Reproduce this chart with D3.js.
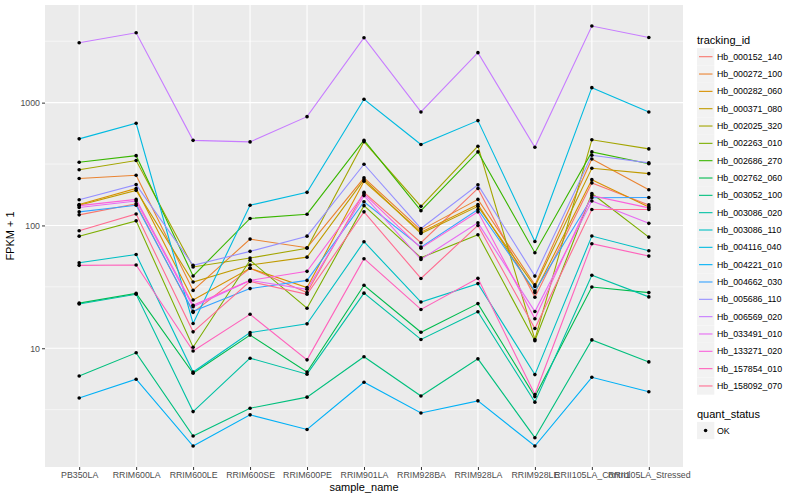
<!DOCTYPE html>
<html><head><meta charset="utf-8">
<script src="https://cdn.jsdelivr.net/npm/d3@7"></script>
<style>body{margin:0;background:#fff}svg{display:block}text{font-family:"Liberation Sans",Arial,sans-serif}</style>
</head><body><svg id="c" width="800" height="500"></svg>
<script>
const samples = ["PB350LA","RRIM600LA","RRIM600LE","RRIM600SE","RRIM600PE","RRIM901LA","RRIM928BA","RRIM928LA","RRIM928LE","RRII105LA_Control","RRII105LA_Stressed"];
const trackingIds = ["Hb_000152_140","Hb_000272_100","Hb_000282_060","Hb_000371_080","Hb_002025_320","Hb_002263_010","Hb_002686_270","Hb_002762_060","Hb_003052_100","Hb_003086_020","Hb_003086_110","Hb_004116_040","Hb_004221_010","Hb_004662_030","Hb_005686_110","Hb_006569_020","Hb_033491_010","Hb_133271_020","Hb_157854_010","Hb_158092_070"];
const colors = ["#F8766D","#EA8331","#D89000","#C09B00","#A3A500","#7CAE00","#39B600","#00BB4E","#00BF7D","#00C1A3","#00BFC4","#00BAE0","#00B0F6","#35A2FF","#9590FF","#C77CFF","#E76BF3","#FA62DB","#FF62BC","#FF6C91"];
// FPKM + 1 per tracking id, in sample order
const v000152_140 = [122, 150, 19.6, 44.8, 28.4, 186, 72.3, 200, 26, 222, 147];
const v000272_100 = [241, 256, 29.6, 77.4, 65.9, 244, 91.6, 163, 32.8, 348, 195];
const v000282_060 = [148, 200, 24.7, 44.8, 31.2, 229, 88.2, 148, 28.4, 236, 141];
const v000371_080 = [146, 193, 34.6, 47.6, 55.2, 236, 86, 143, 31.8, 292, 264];
const v002025_320 = [284, 338, 45.9, 54.3, 65.3, 480, 143, 442, 11.8, 498, 420];
const v002263_010 = [81.8, 109, 10.2, 52, 21.2, 145, 54.6, 84, 11.5, 182, 80.4];
const v002686_270 = [327, 370, 38.8, 114, 123.5, 494, 132, 397, 60, 397, 318];
const v002762_060 = [23.3, 28, 6.25, 12.8, 6.4, 32.6, 13.5, 23.1, 4.04, 31.5, 28.4];
const v003052_100 = [5.95, 9.18, 1.93, 3.25, 4.0, 8.53, 4.08, 8.2, 1.87, 11.7, 7.74];
const v003086_020 = [22.9, 27.5, 3.05, 8.3, 6.15, 28.1, 11.8, 19.8, 3.64, 39.3, 26.2];
const v003086_110 = [49.7, 58, 6.4, 13.4, 15.8, 73.7, 23.8, 33.6, 6.1, 82, 62.2];
const v004116_040 = [507, 679, 15.9, 146, 186, 1064, 456, 714, 74, 1324, 840];
const v004221_010 = [3.94, 5.6, 1.6, 2.87, 2.18, 5.29, 2.97, 3.73, 1.6, 5.8, 4.43];
const v004662_030 = [129, 146, 20, 30.6, 35.7, 156, 66.6, 135, 29.2, 168, 169];
const v005686_110 = [162, 215, 47.3, 61.5, 81.8, 315, 94.5, 214, 38.7, 373, 323];
const v006569_020 = [3076, 3707, 493, 479, 769, 3375, 840, 2553, 433, 4207, 3395];
const v033491_010 = [140, 158, 21.8, 35.7, 30.2, 175, 52.9, 105, 19.9, 158, 104];
const v133271_020 = [145, 163, 22.4, 35.7, 42.3, 181, 65.3, 129, 17.4, 175, 139];
const v157854_010 = [47.3, 47.6, 9.5, 18.9, 8.05, 53.6, 20.7, 37.1, 4.2, 71, 56.3];
const v158092_070 = [90.6, 124, 13.6, 35, 27.5, 129, 37, 100, 14.5, 135, 135];
const seriesValues = [v000152_140,v000272_100,v000282_060,v000371_080,v002025_320,v002263_010,v002686_270,v002762_060,v003052_100,v003086_020,v003086_110,v004116_040,v004221_010,v004662_030,v005686_110,v006569_020,v033491_010,v133271_020,v157854_010,v158092_070];
const yTicks = [10, 100, 1000];
const yMinor = [Math.sqrt(10), Math.sqrt(1000), Math.sqrt(100000), Math.sqrt(10000000)];
const qualityLabels = ["OK"];

const svg = d3.select("#c");
const P = {l:45, r:683, t:5, b:467};
const series = trackingIds.map((id,i)=>({id, color:colors[i], values:seriesValues[i]}));
const all = seriesValues.flat();
const lmin = Math.log10(d3.min(all)), lmax = Math.log10(d3.max(all));
const ex = (lmax-lmin)*0.05;
const y = d3.scaleLog().domain([10**(lmin-ex), 10**(lmax+ex)]).range([P.b, P.t]);
const x = d3.scalePoint().domain(samples).range([P.l, P.r]).padding(0.6);

svg.append("rect").attr("x",P.l).attr("y",P.t).attr("width",P.r-P.l).attr("height",P.b-P.t).attr("fill","#EBEBEB");
const g = svg.append("g");
yMinor.forEach(v=>g.append("line").attr("x1",P.l).attr("x2",P.r).attr("y1",y(v)).attr("y2",y(v)).attr("stroke","#fff").attr("stroke-width",0.55));
yTicks.forEach(v=>g.append("line").attr("x1",P.l).attr("x2",P.r).attr("y1",y(v)).attr("y2",y(v)).attr("stroke","#fff").attr("stroke-width",1.1));
samples.forEach(s=>g.append("line").attr("x1",x(s)).attr("x2",x(s)).attr("y1",P.t).attr("y2",P.b).attr("stroke","#fff").attr("stroke-width",1.1));

const line = d3.line().x((d,i)=>x(samples[i])).y(d=>y(d));
series.forEach(s=>{
  svg.append("path").attr("d",line(s.values)).attr("fill","none").attr("stroke",s.color).attr("stroke-width",1.1);
});
series.forEach(s=>{
  s.values.forEach((v,i)=>svg.append("circle").attr("cx",x(samples[i])).attr("cy",y(v)).attr("r",1.8).attr("fill","#000"));
});

// axes
const ya = svg.append("g").attr("transform",`translate(${P.l},0)`).call(d3.axisLeft(y).tickValues(yTicks).tickFormat(d3.format("d")).tickSize(3).tickPadding(2));
ya.select(".domain").remove();
ya.selectAll("line").attr("stroke","#333");
ya.selectAll("text").attr("fill","#4D4D4D").style("font-size","8.8px");
const xa = svg.append("g").attr("transform",`translate(0,${P.b})`).call(d3.axisBottom(x).tickSize(3).tickPadding(2));
xa.select(".domain").remove();
xa.selectAll("line").attr("stroke","#333");
xa.selectAll("text").attr("fill","#4D4D4D").style("font-size","8.8px");

svg.append("text").attr("x",(P.l+P.r)/2).attr("y",491).attr("text-anchor","middle").style("font-size","11px").text("sample_name");
svg.append("text").attr("transform",`translate(14,${(P.t+P.b)/2}) rotate(-90)`).attr("text-anchor","middle").style("font-size","11px").text("FPKM + 1");

// legend
const L = svg.append("g");
L.append("text").attr("x",697).attr("y",44).style("font-size","11px").text("tracking_id");
series.forEach((s,i)=>{
  const cy = 56.7 + i*17.33;
  L.append("rect").attr("x",697).attr("y",cy-8.6).attr("width",17.3).attr("height",17.3).attr("fill","#F2F2F2");
  L.append("line").attr("x1",699).attr("x2",712.5).attr("y1",cy).attr("y2",cy).attr("stroke",s.color).attr("stroke-width",1.1);
  L.append("text").attr("x",717).attr("y",cy+3).style("font-size","8.8px").text(s.id);
});
L.append("text").attr("x",697).attr("y",418).style("font-size","11px").text("quant_status");
qualityLabels.forEach((q,i)=>{
  const cy = 430.5 + i*17.33;
  L.append("rect").attr("x",697).attr("y",cy-8.6).attr("width",17.3).attr("height",17.3).attr("fill","#F2F2F2");
  L.append("circle").attr("cx",705.6).attr("cy",cy).attr("r",1.8).attr("fill","#000");
  L.append("text").attr("x",717).attr("y",cy+3).style("font-size","8.8px").text(q);
});
</script></body></html>
